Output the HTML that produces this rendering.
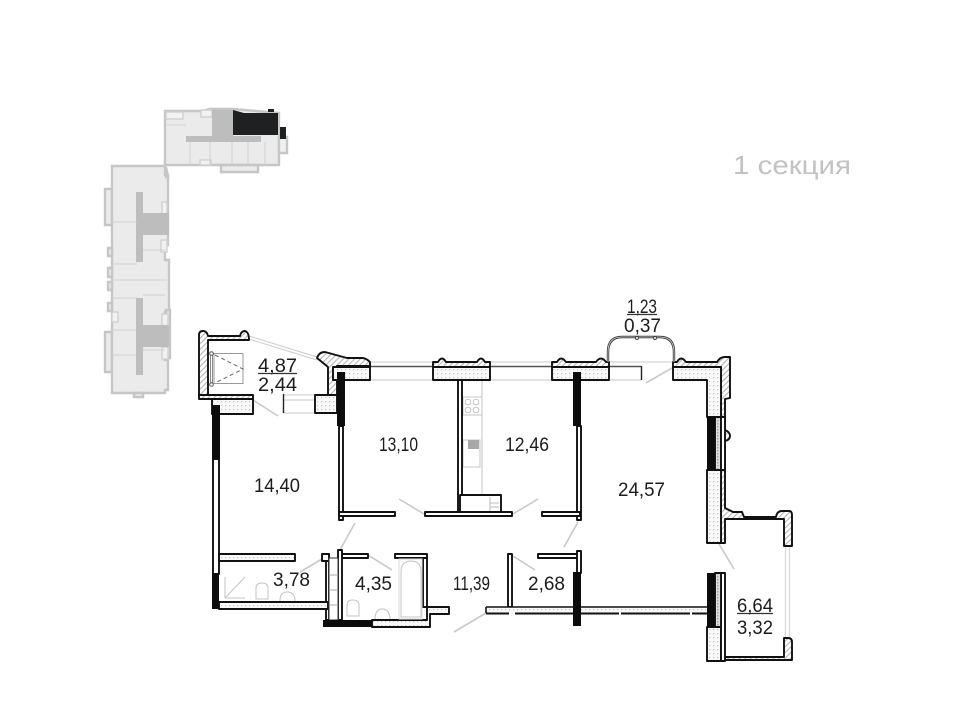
<!DOCTYPE html>
<html><head><meta charset="utf-8"><style>html,body{margin:0;padding:0;background:#fff}svg{display:block;filter:blur(.3px)}text{font-family:"Liberation Sans","DejaVu Sans",sans-serif;fill:#1c1c1c}</style></head><body>
<svg width="960" height="710" viewBox="0 0 960 710" xmlns="http://www.w3.org/2000/svg">
<defs>
<pattern id="h" width="4" height="4" patternUnits="userSpaceOnUse" patternTransform="rotate(-45)"><rect width="4" height="4" fill="#fff"/><rect width="4" height="1.100" fill="#b5b5b5"/></pattern>
<pattern id="d" width="4" height="4" patternUnits="userSpaceOnUse"><rect width="4" height="4" fill="#f8f8f8"/><rect x="1" y="1" width="1.200" height="1.200" fill="#c4c4c4"/></pattern>
<pattern id="x" width="3" height="3" patternUnits="userSpaceOnUse"><rect width="3" height="3" fill="#ddd"/><rect width="1.500" height="1.500" fill="#a5a5a5"/></pattern>
</defs>

<!-- key plan -->
<g fill="#ebebeb" stroke="#c6c6c6" stroke-width="2.400">
<path d="M165 111H203L210 109H233L279 113V165H165Z"/>
<path d="M221 165H258V172H221Z"/>
<path d="M279 137H287V153H279Z" fill="#f0f0f0"/>
<path d="M105 189H112V225H105ZM105 332H112V372H105Z"/>
<path d="M112 166H165V175H168V245H165V260H169V312H165V360H168V390H165V393H112Z"/>
<path d="M108 248H112V256H108ZM108 268H112V277H108ZM108 282H112V290H108ZM108 303H112V311H108Z"/>
<path d="M166 310H170V358H166Z"/>
<path d="M134 393H143V397H134Z"/>
<path d="M166 167L168 176V177H166Z"/>
</g>
<g fill="#f2f2f2" stroke="#d0d0d0" stroke-width="1.400">
<rect x="166" y="112" width="17" height="7"/><rect x="201" y="110" width="11" height="7"/>
<rect x="200" y="160" width="11" height="5"/>
<rect x="162" y="202" width="5" height="12"/><rect x="161" y="240" width="6" height="12"/>
<rect x="162" y="314" width="6" height="12"/><rect x="162" y="347" width="6" height="12"/><rect x="112" y="312" width="6" height="10"/>
</g>
<g fill="#bdbdbd">
<rect x="212" y="110" width="21" height="28"/><rect x="186" y="136" width="75" height="6"/>
<rect x="136" y="192" width="7" height="70"/><rect x="143" y="213" width="26" height="22"/>
<rect x="136" y="298" width="7" height="77"/><rect x="143" y="325" width="26" height="22"/>
</g>
<g fill="none" stroke="#d0d0d0" stroke-width="1">
<path d="M112 222H137M112 264H137M112 280H167M112 298H137M112 330H136M112 355H136M143 250H165M143 295H165M143 350H165"/>
<path d="M190 142V165M210 142V165M232 142V165M248 142V165M265 142V165M167 125H186"/>
</g>
<rect x="233" y="113" width="45" height="22" fill="#1f2022"/>
<path d="M233 110L244 113V116H233Z" fill="#1f2022"/><rect x="268" y="109" width="6" height="3" fill="#1f2022"/>
<rect x="280" y="127" width="6" height="12" fill="#1f2022"/>

<text x="733" y="174" font-size="26" textLength="118" lengthAdjust="spacingAndGlyphs" style="fill:#c2c2c2">1 секция</text>

<!-- light gray door swings and glass -->
<g stroke="#c9c9c9" stroke-width="1.600" fill="none">
<path d="M253 400L278 416M355 523L340 550M368 555L392 570M300 572L322 559M399 499L424 514M513 514L538 499M578 522L564 547M513 556L535 570M719 544L734 569M486 613L454 632M672 368L646 383"/>
<path d="M249 336L317 357M249 339L317 360" stroke-width="1"/>
<path d="M785.500 546V638M789.500 546V638" stroke-width="1.200" stroke="#d8d8d8"/>
<path d="M370 362H433M490 362H552M609 362H672M370 380H433M490 380H552M609 380H641" stroke-width="1"/>
<path d="M283 395H315M283 413H315M283 400H315" stroke-width="1"/>
</g>
<path d="M370 366.500H433M490 366.500H552M609 366.500H641" stroke="#555" stroke-width="1.400"/>
<path d="M641.500 366V380M283.500 394V413" stroke="#222" stroke-width="1.400"/>

<!-- kitchen and plumbing (light) -->
<g fill="none" stroke="#c4c4c4" stroke-width="1">
<path d="M482 380V495"/>
<rect x="463" y="397" width="19" height="18"/>
<circle cx="468" cy="402" r="2.800"/><circle cx="476" cy="402" r="2.800"/><circle cx="468" cy="410" r="2.800"/><circle cx="476" cy="410" r="2.800"/>
<rect x="463" y="440" width="17" height="27"/>
<path d="M225 598L245 577M225 598H245M225 598V577"/>
<path d="M256 599V588Q256 583 262 583Q268 583 268 588V599Z"/>
<path d="M280 601Q280 592 287 592Q295 592 295 601"/>
<path d="M347 616V605Q347 600 353 600Q359 600 359 605V616Z"/>
<path d="M375 620Q375 609 382 609Q390 609 390 620"/>
<path d="M401 617V572Q401 561 411 561Q421 561 421 572V617Z"/>
</g>
<rect x="468" y="440" width="11" height="9" fill="#a8a8a8"/>

<!-- walls -->
<g stroke="#111" stroke-width="1.900" stroke-linejoin="round">
<!-- balcony left -->
<path fill="url(#h)" d="M199 396V335Q199 331 203 331Q207 331 208 336H240Q241 331 245 331Q249 332 249 340H208V396Z"/>
<rect x="199" y="395" width="54" height="4" fill="url(#h)"/>
<rect x="212" y="399" width="41" height="15" fill="url(#d)"/>
<!-- balcony right wall & block -->
<path fill="url(#h)" d="M317 358Q319 352 325 352L347 358H362Q366 358 370 362V366H337V395H328V367L317 358Z"/>
<rect x="315" y="395" width="22" height="18" fill="url(#d)"/>
<rect x="333" y="367" width="37" height="13" fill="url(#d)"/>
<!-- top blocks -->
<path fill="url(#h)" d="M433 367V362L438 362Q442 355 446 362H477Q481 355 485 362H490V367Z"/>
<rect x="433" y="367" width="57" height="13" fill="url(#d)"/>
<path fill="url(#h)" d="M552 367V362H557Q561 355 566 362H596Q601 355 606 362H609V367Z"/>
<rect x="552" y="367" width="57" height="13" fill="url(#d)"/>
<path fill="url(#h)" d="M673 367V362H677Q681 355 686 362H717Q720 357 725 357H730V398L725 399V430Q730 432 730 436Q730 440 725 441V508L733 512H742L744 517H776Q777 511 782 511H789Q792 511 792 515V546H784V519H725V543H721V367Z"/>
<path fill="url(#d)" d="M673 367H721V417H707V380H673Z"/>
<rect x="707" y="470" width="14" height="73" fill="url(#d)"/>
<rect x="715" y="417" width="6" height="53" fill="url(#x)"/>
<path d="M721 417H725V470H721Z" fill="#fff"/>
<!-- balcony right lower -->
<path fill="url(#h)" d="M784 638H788Q792 638 792 642V660H725V657H784Z"/>
<rect x="707" y="627" width="14" height="34" fill="url(#d)"/>
<rect x="721" y="573" width="4" height="88" fill="#fff"/>
<rect x="715" y="573" width="6" height="54" fill="url(#x)"/>
<!-- interior partitions -->
<g fill="#fff">
<rect x="213" y="459" width="6" height="115"/>
<rect x="339" y="426" width="4" height="94"/>
<rect x="339" y="512" width="56" height="4"/>
<rect x="425" y="512" width="87" height="4"/>
<rect x="458" y="380" width="4" height="132"/>
<rect x="460" y="495" width="41" height="17"/>
<rect x="577" y="426" width="4" height="94"/>
<rect x="542" y="512" width="38" height="4"/>
<rect x="538" y="554" width="43" height="4"/>
<rect x="577" y="551" width="4" height="22"/>
<rect x="508" y="554" width="4" height="53"/>
<rect x="395" y="554" width="32" height="4"/>
<rect x="342" y="554" width="26" height="4"/>
<rect x="423" y="558" width="4" height="49"/>
<rect x="326" y="554" width="3" height="66"/>
<rect x="322" y="554" width="7" height="7"/>
<rect x="338" y="550" width="4" height="70"/>
</g>
<rect x="219" y="554" width="76" height="7" fill="url(#d)"/>
<rect x="219" y="602" width="109" height="7" fill="url(#d)"/>
<path fill="url(#d)" d="M427 607H449V614H430V627H372V620H427Z"/>
</g>

<!-- cupboard interior, bath outline -->
<path d="M490 497V511M490 503H499M490 507H499" stroke="#bbb" stroke-width="1" fill="none"/>
<rect x="399" y="559" width="23" height="60" fill="none" stroke="#ddd" stroke-width="1"/>

<!-- long south wall -->
<rect x="486" y="607" width="221" height="6" fill="url(#d)"/>
<path d="M486 607H707M486 607V613" stroke="#111" stroke-width="1.600" fill="none"/>
<path d="M486 613.500H509M515 613.500H619M621 613.500H690M692 613.500H707" stroke="#111" stroke-width="2" fill="none"/>

<!-- shaft detail -->
<rect x="329" y="558" width="9" height="62" fill="#fff" stroke="#333" stroke-width="1"/>
<path d="M329 575H338M329 590H338M329 605H338" stroke="#aaa"/>

<!-- bold concrete -->
<g fill="#0c0c0c">
<rect x="212" y="405" width="8" height="54"/>
<rect x="337" y="372" width="8" height="54"/>
<rect x="573" y="372" width="8" height="54"/>
<rect x="707" y="417" width="8" height="53"/>
<rect x="212" y="573" width="7" height="36"/>
<rect x="323" y="620" width="49" height="7"/>
<rect x="573" y="572" width="8" height="54"/>
<rect x="707" y="573" width="8" height="54"/>
</g>

<!-- balcony arc -->
<path d="M608 362V352Q608 337 622 337H660Q674 337 674 352V362" fill="none" stroke="#333" stroke-width="2.400"/>
<path d="M608 362V352Q608 337 622 337H660Q674 337 674 352V362" fill="none" stroke="#ddd" stroke-width=".8"/>
<circle cx="637" cy="338" r="1.500" fill="#fff" stroke="#444"/><circle cx="655" cy="338" r="1.500" fill="#fff" stroke="#444"/>

<!-- balcony fixture -->
<g fill="none">
<rect x="214" y="353.500" width="29" height="30" stroke="#999"/>
<path d="M215 355L243 369L215 383" stroke="#666" stroke-dasharray="4 3"/>
<path d="M210.500 354V384M212.500 354V384" stroke="#888"/>
<circle cx="211.500" cy="353.500" r="1.800" stroke="#555" fill="#fff"/><circle cx="211.500" cy="384.500" r="1.800" stroke="#555" fill="#fff"/>
</g>

<!-- labels -->
<g font-size="19.500">
<text x="258" y="372" textLength="39" lengthAdjust="spacingAndGlyphs">4,87</text>
<text x="258" y="391" textLength="39" lengthAdjust="spacingAndGlyphs">2,44</text>
<text x="627" y="313" textLength="30" lengthAdjust="spacingAndGlyphs">1,23</text>
<text x="624" y="332" textLength="37" lengthAdjust="spacingAndGlyphs">0,37</text>
<text x="737" y="612" textLength="36" lengthAdjust="spacingAndGlyphs">6,64</text>
<text x="737" y="634" textLength="36" lengthAdjust="spacingAndGlyphs">3,32</text>
<text x="379" y="451" textLength="39" lengthAdjust="spacingAndGlyphs">13,10</text>
<text x="505" y="451" textLength="44" lengthAdjust="spacingAndGlyphs">12,46</text>
<text x="254" y="492" textLength="46" lengthAdjust="spacingAndGlyphs">14,40</text>
<text x="618" y="496" textLength="47" lengthAdjust="spacingAndGlyphs">24,57</text>
<text x="273" y="586" textLength="37" lengthAdjust="spacingAndGlyphs">3,78</text>
<text x="355" y="590" textLength="37" lengthAdjust="spacingAndGlyphs">4,35</text>
<text x="453" y="590" textLength="37" lengthAdjust="spacingAndGlyphs">11,39</text>
<text x="528" y="590" textLength="37" lengthAdjust="spacingAndGlyphs">2,68</text>
</g>
<path d="M258 373.500H297M627 314.500H657M737 613.500H773" stroke="#333" stroke-width="1.200"/>
</svg>
</body></html>
